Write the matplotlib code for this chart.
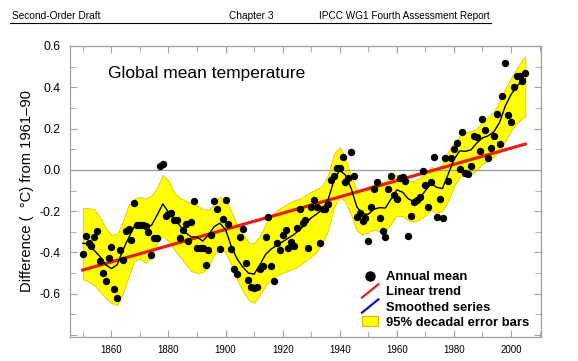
import numpy as np
import matplotlib
matplotlib.use("Agg")
import matplotlib.pyplot as plt
from matplotlib.lines import Line2D
from matplotlib.patches import Patch
from matplotlib.legend_handler import HandlerBase
from matplotlib.ticker import MultipleLocator

plt.rcParams['font.family'] = ['Liberation Sans', 'DejaVu Sans']

# annual global mean anomalies
years = np.arange(1850, 2006)
annual = [
    -0.406, -0.319, -0.352, -0.371, -0.326, -0.295, -0.442, -0.498, -0.536, -0.425,   # 1850s
    -0.375, -0.577, -0.622, -0.390, -0.435, -0.295, -0.288, -0.338, -0.160, -0.266,   # 1860s
    -0.265, -0.265, -0.270, -0.300, -0.410, -0.330, -0.330, 0.018, 0.030, -0.225,     # 1870s
    -0.215, -0.210, -0.245, -0.245, -0.330, -0.290, -0.263, -0.344, -0.253, -0.153,   # 1880s
    -0.380, -0.380, -0.378, -0.460, -0.390, -0.315, -0.153, -0.190, -0.385, -0.240,   # 1890s
    -0.145, -0.264, -0.385, -0.482, -0.505, -0.327, -0.287, -0.450, -0.533, -0.565,   # 1900s
    -0.570, -0.565, -0.480, -0.468, -0.326, -0.226, -0.464, -0.540, -0.355, -0.387,   # 1910s
    -0.314, -0.290, -0.380, -0.350, -0.370, -0.282, -0.190, -0.255, -0.242, -0.376,   # 1920s
    -0.178, -0.145, -0.178, -0.352, -0.190, -0.190, -0.165, -0.048, -0.032, 0.008,    # 1930s
    0.008, 0.064, -0.057, -0.040, 0.086, -0.032, -0.226, -0.210, -0.247, -0.234,      # 1940s
    -0.343, -0.178, -0.093, -0.057, -0.234, -0.294, -0.326, -0.093, -0.028, -0.120,   # 1950s
    -0.142, -0.040, -0.035, -0.055, -0.320, -0.222, -0.158, -0.145, -0.130, -0.005,   # 1960s
    -0.075, -0.180, -0.057, 0.060, -0.229, -0.139, -0.234, 0.056, -0.053, 0.056,      # 1970s
    0.100, 0.129, 0.005, 0.185, -0.013, -0.019, 0.019, 0.165, 0.161, 0.093,           # 1980s
    0.247, 0.194, 0.056, 0.105, 0.165, 0.271, 0.124, 0.358, 0.516, 0.266,            # 1990s
    0.234, 0.400, 0.455, 0.455, 0.432, 0.468,                                         # 2000s
]

# smoothed curve and 95% band edges, read every ~2 years
band_years = list(range(1850, 2005, 2)) + [2005]
smooth = [
    -0.355, -0.360, -0.390, -0.420, -0.460, -0.478, -0.460, -0.390, -0.330, -0.275,
    -0.262, -0.268, -0.270, -0.220, -0.165, -0.205, -0.235, -0.270, -0.305, -0.325,
    -0.325, -0.345, -0.315, -0.275, -0.258, -0.290, -0.370, -0.430, -0.470, -0.500,
    -0.505, -0.460, -0.410, -0.383, -0.365, -0.348, -0.330, -0.313, -0.290, -0.260,
    -0.232, -0.213, -0.190, -0.140, -0.050, -0.002, -0.025, -0.090, -0.180, -0.213,
    -0.215, -0.190, -0.183, -0.185, -0.140, -0.097, -0.108, -0.140, -0.155, -0.140,
    -0.100, -0.066, -0.085, -0.090, -0.020, 0.050, 0.092, 0.090, 0.097, 0.130,
    0.155, 0.165, 0.185, 0.230, 0.310, 0.365, 0.405, 0.432, 0.440,
]
band_upper = [
    -0.185, -0.185, -0.190, -0.230, -0.280, -0.315, -0.310, -0.250, -0.170, -0.140,
    -0.130, -0.140, -0.125, -0.085, -0.025, -0.050, -0.110, -0.135, -0.150, -0.160,
    -0.172, -0.190, -0.195, -0.165, -0.130, -0.145, -0.200, -0.265, -0.305, -0.350,
    -0.355, -0.320, -0.262, -0.225, -0.195, -0.178, -0.162, -0.148, -0.138, -0.122,
    -0.105, -0.093, -0.075, -0.020, 0.080, 0.110, 0.060, -0.035, -0.100, -0.095,
    -0.080, -0.070, -0.062, -0.055, -0.033, -0.024, -0.036, -0.050, -0.055, -0.038,
    -0.020, 0.015, 0.002, 0.030, 0.090, 0.130, 0.165, 0.180, 0.188, 0.200,
    0.232, 0.258, 0.285, 0.335, 0.395, 0.445, 0.490, 0.535, 0.550,
]
band_lower = [
    -0.530, -0.540, -0.560, -0.590, -0.620, -0.645, -0.655, -0.600, -0.520, -0.440,
    -0.430, -0.450, -0.420, -0.355, -0.320, -0.345, -0.385, -0.420, -0.455, -0.490,
    -0.500, -0.495, -0.470, -0.410, -0.375, -0.400, -0.460, -0.530, -0.585, -0.630,
    -0.645, -0.605, -0.560, -0.530, -0.510, -0.500, -0.488, -0.478, -0.462, -0.440,
    -0.420, -0.395, -0.355, -0.290, -0.180, -0.130, -0.155, -0.220, -0.295, -0.315,
    -0.300, -0.290, -0.298, -0.298, -0.260, -0.222, -0.224, -0.245, -0.252, -0.240,
    -0.220, -0.194, -0.208, -0.198, -0.150, -0.080, -0.035, -0.024, -0.020, 0.000,
    0.030, 0.045, 0.065, 0.090, 0.140, 0.190, 0.225, 0.250, 0.260,
]

# linear trend end points
trend_years = [1850, 2005]
trend_vals = [-0.485, 0.125]


class HandlerDiag(HandlerBase):
    """legend line drawn as a short diagonal stroke"""
    def create_artists(self, legend, orig_handle, xdescent, ydescent,
                       width, height, fontsize, trans):
        ln = Line2D([-xdescent, width - xdescent],
                    [-ydescent - 1, height - ydescent + 1],
                    color=orig_handle.get_color(),
                    lw=orig_handle.get_linewidth())
        ln.set_transform(trans)
        return [ln]


fig = plt.figure(figsize=(5.78, 3.61), dpi=100)
ax = fig.add_axes([70/578, 1 - 337/361, 471/578, 291/361])

ax.fill_between(band_years, band_lower, band_upper, facecolor='#ffff00',
                edgecolor='#e6c200', lw=0.6, zorder=1)
ax.axhline(0, color='#9a9a9a', lw=0.9, zorder=2)
ax.plot(trend_years, trend_vals, color='#e3201b', lw=2.3, zorder=3)
ax.plot(band_years, smooth, color='black', lw=1.0, zorder=4)
ax.plot(years, annual, 'o', color='black', ms=4.3, mec='black', zorder=5)

ax.set_xlim(1845.5, 2010.5)
ax.set_ylim(-0.8095, 0.6)
ax.xaxis.set_major_locator(MultipleLocator(20))
ax.xaxis.set_minor_locator(MultipleLocator(10))
ax.yaxis.set_major_locator(MultipleLocator(0.2))
ax.yaxis.set_minor_locator(MultipleLocator(0.1))
ax.yaxis.set_major_formatter(plt.FuncFormatter(
    lambda v, p: "" if v < -0.75 else f"{v:.1f}".replace("-0.0", "0.0")))
ax.tick_params(which='both', direction='in', top=True, right=True,
               color='#a0a0a0')
ax.tick_params(axis='x', labelsize=7, pad=6)
ax.tick_params(axis='y', labelsize=8.8, pad=7)
ax.tick_params(which='major', length=5)
ax.tick_params(which='minor', length=4)
for s in ax.spines.values():
    s.set_color('#a0a0a0')
    s.set_linewidth(0.9)

ax.set_ylabel("Difference (  \u00b0C) from 1961\u201390", fontsize=10.6, labelpad=4)
ax.text(0.08, 0.905, "Global mean temperature", transform=ax.transAxes,
        fontsize=12.5, va='center', ha='left')

handles = [
    Line2D([], [], marker='o', ls='none', color='black', ms=6.5),
    Line2D([], [], color='#e3201b', lw=1.6),
    Line2D([], [], color='#1010c0', lw=1.6),
    Patch(facecolor='#ffff00', edgecolor='#e6b000', lw=0.8),
]
labels = ["Annual mean", "Linear trend", "Smoothed series", "95% decadal error bars"]
leg = ax.legend(handles, labels, loc='upper left', bbox_to_anchor=(0.62, 0.228),
                frameon=False, borderpad=0, borderaxespad=0, handlelength=1.25,
                handleheight=0.85, handletextpad=0.55, labelspacing=0.18,
                prop={'weight': 'bold', 'size': 9.4}, numpoints=1,
                handler_map={handles[1]: HandlerDiag(), handles[2]: HandlerDiag()})

# page header of the draft
fig.text(12/578, 1 - 16/361, "Second-Order Draft", fontsize=7.3, va='center', ha='left')
fig.text(229/578, 1 - 16/361, "Chapter 3", fontsize=7.3, va='center', ha='left')
fig.text(490/578, 1 - 16/361, "IPCC WG1 Fourth Assessment Report", fontsize=7.2,
         va='center', ha='right')
fig.add_artist(Line2D([10/578, 491/578], [1 - 22.5/361, 1 - 22.5/361],
                      transform=fig.transFigure, color='black', lw=0.8))

fig.savefig("out.png", dpi=100)
